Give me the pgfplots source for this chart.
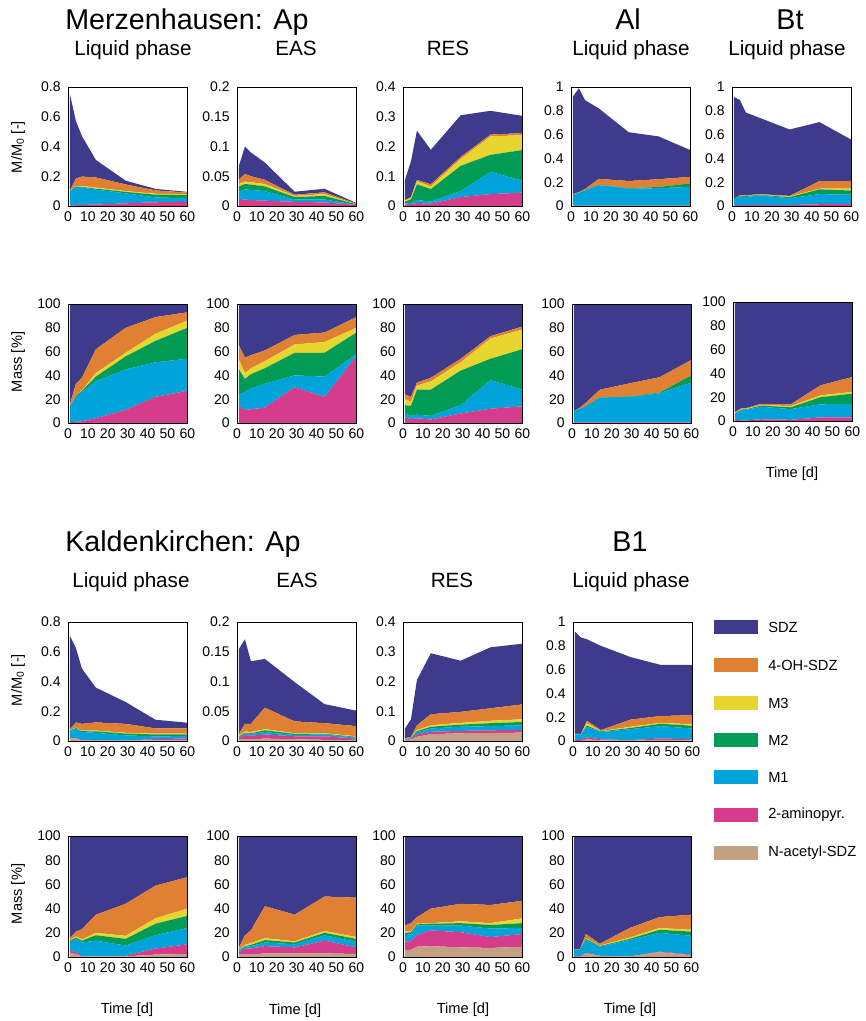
\documentclass[border=0pt]{standalone}
\usepackage{pgfplots}
\usepackage{pgfplotstable}
\pgfplotsset{compat=1.18}
\usepackage{fontspec}
\setmainfont{Liberation Sans}
\definecolor{cSDZ}{HTML}{3E3A8C}
\definecolor{cOH}{HTML}{E08032}
\definecolor{cMiii}{HTML}{E8D630}
\definecolor{cMii}{HTML}{009B55}
\definecolor{cMi}{HTML}{00A3DA}
\definecolor{cAmi}{HTML}{D63C8C}
\definecolor{cAce}{HTML}{C3A082}

% Merzenhausen, M/M0
\pgfplotstableread{
t tan pink cyan green yellow orange sdz
1 0 .005 .095 0 .001 .004 .645
4 0 .005 .125 0 .005 .050 .385
7 0 .007 .118 .003 .006 .064 .272
14 0 .010 .100 .007 .007 .068 .118
29 0 .018 .067 .010 .005 .045 .025
44 0 .025 .033 .018 .006 .023 .010
60 0 .028 .024 .022 .006 .010 .005
}\tAi
\pgfplotstableread{
t tan pink cyan green yellow orange sdz
1 0 .010 .014 .009 .004 .008 .023
4 0 .011 .017 .009 .004 .013 .046
7 0 .010 .017 .009 .004 .010 .040
14 0 .009 .016 .008 .004 .007 .029
29 0 .007 .004 .004 .002 .002 .005
44 0 .006 .005 .006 .003 .003 .006
60 0 .002 .000 .001 .000 .001 .001
}\tAii
\pgfplotstableread{
t tan pink cyan green yellow orange sdz
1 0 .005 .003 .007 .003 .002 .068
4 0 .007 .003 .012 .006 .002 .120
7 0 .010 .010 .053 .010 .005 .165
14 0 .008 .007 .042 .009 .007 .116
29 0 .030 .020 .085 .023 .007 .140
44 0 .040 .075 .057 .062 .006 .080
60 0 .045 .040 .103 .050 .007 .058
}\tAiii
\pgfplotstableread{
t tan pink cyan green yellow orange sdz
1 0 .003 .092 .002 0 .003 .820
4 0 .003 .107 .002 0 .005 .873
7 0 .003 .127 .002 0 .010 .748
14 0 .003 .173 .002 0 .050 .592
29 0 .003 .143 .004 0 .060 .410
44 0 .003 .147 .010 0 .065 .360
60 0 .003 .157 .030 0 .055 .225
}\tAiv
\pgfplotstableread{
t tan pink cyan green yellow orange sdz
1 0 .005 .050 .005 0 0 .855
4 0 .010 .070 .003 .002 .005 .800
7 0 .010 .065 .008 .002 .005 .695
14 0 .010 .080 .003 .002 .005 .640
29 0 .008 .057 .010 .005 .005 .558
44 0 .015 .085 .040 .005 .065 .495
60 0 .015 .080 .035 .015 .065 .347
}\tAv
% Merzenhausen, Mass %
\pgfplotstableread{
t tan pink cyan green yellow orange sdz
1 0 1 13 0 0 2 84
4 0 1 21 1 .5 9.5 67
7 0 1.5 24.5 1 .5 10.5 62
14 0 4 31 4 3 20 38
29 0 11 34 11 3 21 20
44 0 22 29 18 6 14 11
60 0 27 27 26 6 7 7
}\tBi
\pgfplotstableread{
t tan pink cyan green yellow orange sdz
1 0 14 10 21 8 12 35
4 0 11 15 11 5 13 45
7 0 11.5 17.5 12 5 11 43
14 0 13 20 13 6 9 39
29 0 30 10 19 7 8 26
44 0 22 17 20 9 8 24
60 0 56 2 18 4 9 11
}\tBii
\pgfplotstableread{
t tan pink cyan green yellow orange sdz
1 0 5 3 7 5 4 76
4 0 3 3 8.5 3.5 4 78
7 0 4 3 21 3.5 2.5 66
14 0 3 3 22 7 3 62
29 0 8 7 29 7 3 46
44 0 12 24 18 17 2 27
60 0 14 14 34 16.5 2.5 19
}\tBiii
\pgfplotstableread{
t tan pink cyan green yellow orange sdz
1 0 .5 9.5 0 0 0 90
4 0 .5 11.5 0 0 1 87
7 0 .5 13.5 0 0 3 83
14 0 .5 21 0 0 6.5 72
29 0 .5 21.5 .3 0 11 66.7
44 0 .5 24.5 .5 0 13 61.5
60 0 .5 33.5 6 0 13 47
}\tBiv
\pgfplotstableread{
t tan pink cyan green yellow orange sdz
1 0 1 5 .5 .5 .5 92.5
4 0 .5 8.5 .5 .5 .5 89.5
7 0 .5 9 .5 .5 .5 89
14 0 1.5 10.5 1 .5 1 85.5
29 0 1 9 1.5 1 1.5 86
44 0 3 11 6 1.5 8.5 70
60 0 3 11.5 8.5 1.5 12.5 63
}\tBv
% Kaldenkirchen, M/M0
\pgfplotstableread{
t tan pink cyan green yellow orange sdz
1 .020 .000 .050 .003 .002 .005 .626
4 .017 .003 .063 .004 .003 .035 .500
7 .005 .003 .052 .006 .004 .045 .372
14 .003 .002 .050 .010 .005 .055 .234
29 .003 .000 .035 .012 .005 .060 .147
44 .005 .008 .018 .013 .005 .036 .058
60 .005 .012 .016 .012 .005 .035 .038
}\tCi
\pgfplotstableread{
t tan pink cyan green yellow orange sdz
1 .003 .002 .002 .001 .001 .003 .143
4 .003 .007 .003 .001 .002 .013 .142
7 .003 .006 .003 .001 .002 .014 .105
14 .004 .007 .004 .003 .002 .036 .082
29 .003 .005 .002 .002 .001 .020 .066
44 .002 .006 .003 .001 .001 .017 .032
60 .001 .003 .002 .001 .001 .017 .026
}\tCii
\pgfplotstableread{
t tan pink cyan green yellow orange sdz
1 .002 .001 .002 .001 .001 .002 .033
4 .005 .002 .002 .001 .001 .003 .059
7 .014 .008 .007 .004 .004 .016 .152
14 .023 .008 .011 .006 .005 .037 .205
29 .026 .008 .014 .007 .006 .037 .172
44 .027 .009 .014 .010 .008 .042 .205
60 .028 .009 .016 .011 .009 .050 .204
}\tCiii
\pgfplotstableread{
t tan pink cyan green yellow orange sdz
1 0 .010 .045 .005 0 0 .860
4 0 .010 .045 .003 .002 0 .810
7 .014 .016 .090 .010 .020 .020 .685
14 .005 .009 .061 .005 .003 .009 .708
29 .003 .005 .092 .010 .010 .060 .525
44 .010 .012 .103 .020 .008 .057 .430
60 .005 .009 .091 .023 .012 .077 .423
}\tCiv
% Kaldenkirchen, Mass %
\pgfplotstableread{
t tan pink cyan green yellow orange sdz
1 3 2.5 6.5 1.5 .5 2 84
4 2.5 1.5 11 1 1 4 79
7 .5 0 11.5 1.5 1 8.5 77
14 .5 0 13 4.5 2 15 65
29 .5 .5 8.5 5.5 2.5 26.5 56
44 2 5 11 9.5 4.5 27 41
60 2.5 8 13.5 10 6 26 34
}\tDi
\pgfplotstableread{
t tan pink cyan green yellow orange sdz
1 2 2 1.5 .5 .5 1.5 92
4 2 5 1.5 .5 1 8 82
7 2 5 2 1 1.5 10.5 78
14 3 6 3 2 1.5 26.5 58
29 3 5 2.5 1.5 1 22 65
44 3 10.5 4.5 2 1.5 28.5 50
60 2.5 5.5 4.5 2.5 1.5 32.5 51
}\tDii
\pgfplotstableread{
t tan pink cyan green yellow orange sdz
1 6 7 5 2 1 5 74
4 6 7 6 1.5 1 6.5 72
7 8.5 9.5 8 1 .5 5.5 67
14 9 13 4 1.5 .5 12 60
29 8 12.5 5.5 2 1.5 14.5 56
44 7.5 9 7 3 1.5 15 57
60 8.5 10.5 5 4 4 14.5 53.5
}\tDiii
\pgfplotstableread{
t tan pink cyan green yellow orange sdz
1 0 .5 5.5 0 0 0 94
4 0 .5 5.5 0 0 .5 93.5
7 3 .5 10.5 1 .5 3.5 81
14 1 0 7.5 .5 .5 1.5 89
29 .5 0 13.5 1 1 8 76
44 4 .5 15.5 2.5 1.5 9 67
60 1.5 .5 15.5 3.5 1.5 12.5 65
}\tDiv

\newcommand{\layers}[1]{%
  \addplot[fill=cAce,draw=none] table[x=t,y=tan]{#1} \closedcycle;
  \addplot[fill=cAmi,draw=none] table[x=t,y=pink]{#1} \closedcycle;
  \addplot[fill=cMi,draw=none] table[x=t,y=cyan]{#1} \closedcycle;
  \addplot[fill=cMii,draw=none] table[x=t,y=green]{#1} \closedcycle;
  \addplot[fill=cMiii,draw=none] table[x=t,y=yellow]{#1} \closedcycle;
  \addplot[fill=cOH,draw=none] table[x=t,y=orange]{#1} \closedcycle;
  \addplot[fill=cSDZ,draw=none] table[x=t,y=sdz]{#1} \closedcycle;
}

\pgfplotsset{
  pos/.style 2 args={at={({#1*0.75pt},{-#2*0.75pt})}},
  panel/.style={
    scale only axis, width=89.5pt, height=89.25pt,
    anchor=south west,
    xmin=0, xmax=60, ymin=0, xtick={0,10,20,30,40,50,60},
    stack plots=y,
    major tick length=0pt,
    axis line style={black,line width=0.6pt},
    tick label style={font=\fontsize{10.5}{12}\selectfont},
    /pgf/number format/assume math mode=true,
    /pgf/number format/fixed,
    xticklabel style={yshift=-1pt},
    yticklabel style={xshift=-2pt},
    axis on top,
  },
  mm8/.style={ymax=0.8, ytick={0,0.2,0.4,0.6,0.8}},
  mm2/.style={ymax=0.2, ytick={0,0.05,0.1,0.15,0.2}},
  mm4/.style={ymax=0.4, ytick={0,0.1,0.2,0.3,0.4}},
  mm1/.style={ymax=1, ytick={0,0.2,0.4,0.6,0.8,1}},
  pct/.style={ymax=100, ytick={0,20,40,60,80,100}},
}

\begin{document}
\begin{tikzpicture}
\useasboundingbox (0,0) rectangle (866*0.75pt,-1021*0.75pt);

% ---------- titles ----------
\def\big{\fontsize{21.5}{24}\selectfont}
\def\mid{\fontsize{15.5}{18}\selectfont}
\def\lab{\fontsize{11}{13}\selectfont}
\node[anchor=base west,font=\big,inner sep=0pt] at (65*0.75pt,-29*0.75pt) {Merzenhausen: Ap};
\node[anchor=base,font=\big,inner sep=0pt] at (628*0.75pt,-29*0.75pt) {Al};
\node[anchor=base,font=\big,inner sep=0pt] at (790*0.75pt,-29*0.75pt) {Bt};
\node[anchor=base,font=\mid,inner sep=0pt] at (133*0.75pt,-55*0.75pt) {Liquid phase};
\node[anchor=base,font=\mid,inner sep=0pt] at (296*0.75pt,-55*0.75pt) {EAS};
\node[anchor=base,font=\mid,inner sep=0pt] at (448*0.75pt,-55*0.75pt) {RES};
\node[anchor=base,font=\mid,inner sep=0pt] at (631*0.75pt,-55*0.75pt) {Liquid phase};
\node[anchor=base,font=\mid,inner sep=0pt] at (787*0.75pt,-55*0.75pt) {Liquid phase};

\node[anchor=base west,font=\big,inner sep=0pt] at (65*0.75pt,-551*0.75pt) {Kaldenkirchen: Ap};
\node[anchor=base,font=\big,inner sep=0pt] at (630*0.75pt,-551*0.75pt) {B1};
\node[anchor=base,font=\mid,inner sep=0pt] at (131*0.75pt,-587*0.75pt) {Liquid phase};
\node[anchor=base,font=\mid,inner sep=0pt] at (297*0.75pt,-587*0.75pt) {EAS};
\node[anchor=base,font=\mid,inner sep=0pt] at (452*0.75pt,-587*0.75pt) {RES};
\node[anchor=base,font=\mid,inner sep=0pt] at (631*0.75pt,-587*0.75pt) {Liquid phase};

% ---------- y labels ----------
\node[rotate=90,font=\lab] at (18*0.75pt,-147*0.75pt) {M/M\textsubscript{0} [-]};
\node[rotate=90,font=\lab] at (18*0.75pt,-362*0.75pt) {Mass [\%]};
\node[rotate=90,font=\lab] at (18*0.75pt,-680*0.75pt) {M/M\textsubscript{0} [-]};
\node[rotate=90,font=\lab] at (18*0.75pt,-894*0.75pt) {Mass [\%]};
% ---------- x labels ----------
\node[font=\lab] at (792*0.75pt,-474*0.75pt) {Time [d]};
\node[font=\lab] at (127*0.75pt,-1010*0.75pt) {Time [d]};
\node[font=\lab] at (295*0.75pt,-1011*0.75pt) {Time [d]};
\node[font=\lab] at (463*0.75pt,-1010*0.75pt) {Time [d]};
\node[font=\lab] at (630*0.75pt,-1010*0.75pt) {Time [d]};

% ---------- Row 1 ----------
\begin{axis}[panel, mm8, pos={68}{206}] \layers{\tAi} \end{axis}
\begin{axis}[panel, mm2, pos={237}{206}] \layers{\tAii} \end{axis}
\begin{axis}[panel, mm4, pos={403}{206}] \layers{\tAiii} \end{axis}
\begin{axis}[panel, mm1, pos={571}{206}] \layers{\tAiv} \end{axis}
\begin{axis}[panel, mm1, pos={732}{206}] \layers{\tAv} \end{axis}
% ---------- Row 2 ----------
\begin{axis}[panel, pct, pos={68}{423}] \layers{\tBi} \end{axis}
\begin{axis}[panel, pct, pos={237}{423}] \layers{\tBii} \end{axis}
\begin{axis}[panel, pct, pos={403}{423}] \layers{\tBiii} \end{axis}
\begin{axis}[panel, pct, pos={572}{423}] \layers{\tBiv} \end{axis}
\begin{axis}[panel, pct, pos={733}{421}] \layers{\tBv} \end{axis}
% ---------- Row 3 ----------
\begin{axis}[panel, mm8, pos={68}{741}] \layers{\tCi} \end{axis}
\begin{axis}[panel, mm2, pos={237}{741}] \layers{\tCii} \end{axis}
\begin{axis}[panel, mm4, pos={403}{741}] \layers{\tCiii} \end{axis}
\begin{axis}[panel, mm1, pos={573}{741}] \layers{\tCiv} \end{axis}
% ---------- Row 4 ----------
\begin{axis}[panel, pct, height=90.75pt, pos={68}{957}] \layers{\tDi} \end{axis}
\begin{axis}[panel, pct, height=90.75pt, pos={237}{957}] \layers{\tDii} \end{axis}
\begin{axis}[panel, pct, height=90.75pt, pos={403}{957}] \layers{\tDiii} \end{axis}
\begin{axis}[panel, pct, height=90.75pt, pos={572}{957}] \layers{\tDiv} \end{axis}

% ---------- legend ----------
\foreach \c/\n/\y in {cSDZ/SDZ/627, cOH/4-OH-SDZ/665, cMiii/M3/703, cMii/M2/740, cMi/M1/777, cAmi/2-aminopyr./815, cAce/N-acetyl-SDZ/853}{
  \fill[\c] (714*0.75pt,{-(\y-7)*0.75pt}) rectangle (758*0.75pt,{-(\y+7)*0.75pt});
  \node[anchor=west,font=\lab,inner sep=0pt] at (768*0.75pt,{-\y*0.75pt}) {\n};
}
\end{tikzpicture}
\end{document}
